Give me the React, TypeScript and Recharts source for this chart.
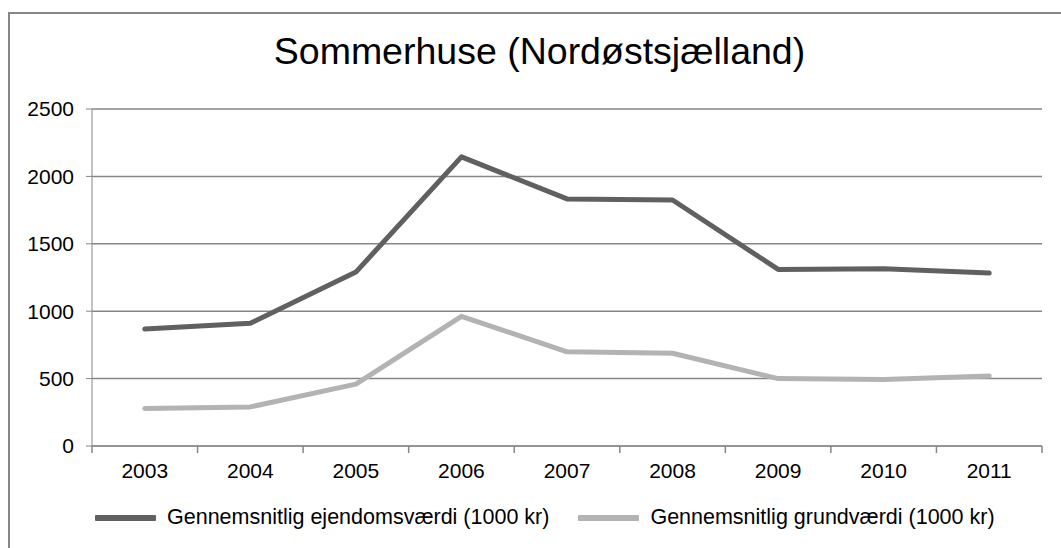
import React from "react"
import { LineChart, Line, XAxis, YAxis, CartesianGrid, Legend } from "recharts"

// data
const years = [2003, 2004, 2005, 2006, 2007, 2008, 2009, 2010, 2011]
const ejendomsvaerdi = [868, 910, 1290, 2145, 1833, 1825, 1310, 1315, 1283]
const grundvaerdi = [278, 290, 459, 962, 699, 688, 500, 494, 520]
const yTicks = [0, 500, 1000, 1500, 2000, 2500]

const TITLE = "Sommerhuse (Nordøstsjælland)"
const NAME_EJD = "Gennemsnitlig ejendomsværdi (1000 kr)"
const NAME_GRUND = "Gennemsnitlig grundværdi (1000 kr)"

const DARK = "#606060"
const LIGHT = "#b3b3b3"
const AXIS = "#868686"
const FONT = "'Liberation Sans', Arial, sans-serif"

const CHART_W = 1051
const CHART_H = 534
// the legend's own height is added below by recharts (~63px)
const MARGIN = { top: 95, right: 19, bottom: 37, left: 0 }
const Y_AXIS_W = 82
const PLOT_W = CHART_W - MARGIN.left - MARGIN.right - Y_AXIS_W

const data = years.map((year, i) => ({
  year,
  ejd: ejendomsvaerdi[i],
  grund: grundvaerdi[i]
}))

// Excel style: labels in the middle of each category, tick marks on the borders
function YearTick(props: any) {
  const { x, y, payload, index } = props
  const half = PLOT_W / (years.length * 2)
  const last = index === years.length - 1
  return (
    <g>
      <line x1={x - half} y1={y} x2={x - half} y2={y + 7} stroke={AXIS} strokeWidth={1.5} />
      {last && <line x1={x + half} y1={y} x2={x + half} y2={y + 7} stroke={AXIS} strokeWidth={1.5} />}
      <text x={x} y={y + 32} textAnchor="middle" fill="#000" fontSize={21} fontFamily={FONT}>
        {payload.value}
      </text>
    </g>
  )
}

function LegendContent(props: any) {
  const { payload } = props
  return (
    <div style={{ display: "flex", alignItems: "center", fontFamily: FONT, fontSize: 21.5, color: "#000" }}>
      {(payload || []).map((p: any, i: number) => (
        <div key={i} style={{ display: "flex", alignItems: "center", marginRight: 29 }}>
          <span style={{ display: "inline-block", width: 61, height: 6, background: p.color, marginRight: 11, borderRadius: 1 }} />
          <span>{p.value}</span>
        </div>
      ))}
    </div>
  )
}

export default function App() {
  return (
    <div
      style={{
        position: "absolute",
        left: 8,
        top: 12,
        width: 1053,
        height: 536,
        borderLeft: `2px solid ${AXIS}`,
        borderTop: `2px solid ${AXIS}`,
        boxSizing: "border-box",
        background: "#fff"
      }}
    >
      <div
        style={{
          position: "absolute",
          left: 4,
          top: 16,
          width: CHART_W,
          textAlign: "center",
          fontFamily: FONT,
          fontSize: 37.5,
          color: "#000",
          lineHeight: "42px"
        }}
      >
        {TITLE}
      </div>
      <LineChart width={CHART_W} height={CHART_H} data={data} margin={MARGIN}>
        <CartesianGrid vertical={false} stroke={AXIS} strokeWidth={1.5} />
        <XAxis
          dataKey="year"
          type="number"
          domain={[2002.5, 2011.5]}
          allowDataOverflow={true}
          ticks={years}
          interval={0}
          stroke={AXIS}
          tickLine={false}
          tickSize={0}
          tickMargin={0}
          tick={<YearTick />}
          height={40}
        />
        <YAxis
          domain={[0, 2500]}
          ticks={yTicks}
          width={Y_AXIS_W}
          stroke={AXIS}
          tickSize={6}
          tickMargin={12}
          tick={{ fill: "#000", fontSize: 21, fontFamily: FONT }}
        />
        <Legend
          content={<LegendContent />}
          wrapperStyle={{ left: 85, top: 491, width: "auto" }}
        />
        <Line
          type="linear"
          dataKey="ejd"
          name={NAME_EJD}
          stroke={DARK}
          strokeWidth={5}
          strokeLinecap="round"
          strokeLinejoin="round"
          dot={false}
          isAnimationActive={false}
        />
        <Line
          type="linear"
          dataKey="grund"
          name={NAME_GRUND}
          stroke={LIGHT}
          strokeWidth={5}
          strokeLinecap="round"
          strokeLinejoin="round"
          dot={false}
          isAnimationActive={false}
        />
      </LineChart>
    </div>
  )
}
